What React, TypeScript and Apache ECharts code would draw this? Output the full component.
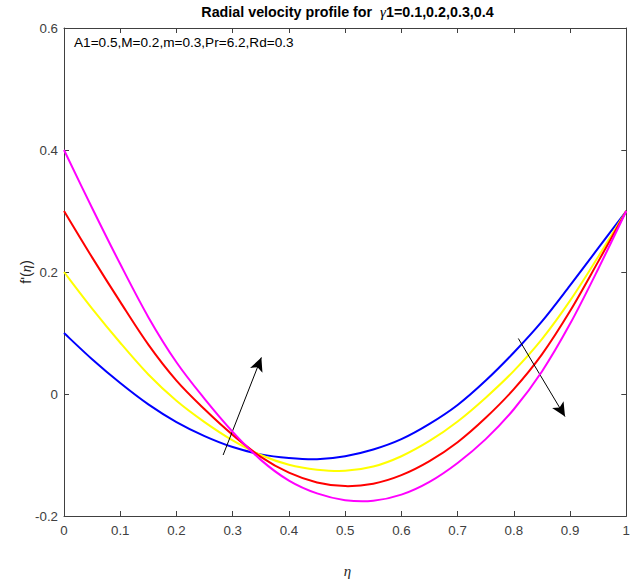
import React, { useEffect, useRef } from "react";
import * as echarts from "echarts";

const etaValues = [0, 0.05, 0.1, 0.15, 0.2, 0.25, 0.3, 0.35, 0.4, 0.45, 0.5, 0.55, 0.6, 0.65, 0.7, 0.75, 0.8, 0.85, 0.9, 0.95, 1];
const gamma01 = [0.1, 0.057, 0.018, -0.017, -0.046, -0.069, -0.087, -0.099, -0.105, -0.107, -0.102, -0.091, -0.074, -0.049, -0.018, 0.022, 0.068, 0.119, 0.178, 0.239, 0.3];
const gamma02 = [0.2, 0.14, 0.084, 0.032, -0.011, -0.046, -0.076, -0.1, -0.116, -0.124, -0.126, -0.119, -0.102, -0.077, -0.045, -0.006, 0.038, 0.09, 0.153, 0.225, 0.3];
const gamma03 = [0.3, 0.224, 0.151, 0.081, 0.022, -0.025, -0.067, -0.103, -0.129, -0.145, -0.151, -0.147, -0.133, -0.11, -0.079, -0.039, 0.008, 0.065, 0.136, 0.217, 0.3];
const gamma04 = [0.4, 0.305, 0.213, 0.126, 0.052, -0.008, -0.062, -0.108, -0.142, -0.163, -0.174, -0.175, -0.165, -0.144, -0.113, -0.074, -0.025, 0.037, 0.115, 0.205, 0.3];

const seriesNames = ["γ1=0.1", "γ1=0.2", "γ1=0.3", "γ1=0.4"];
const seriesColors = ["#0000ff", "#ffff00", "#ff0000", "#ff00ff"];
const seriesValues = [gamma01, gamma02, gamma03, gamma04];

const xTicks = { min: 0, max: 1, interval: 0.1 };
const yTicks = { min: -0.2, max: 0.6, interval: 0.2 };

// arrows: [tail, head] in data coordinates
const arrowUp = [[0.283, -0.1], [0.351, 0.06]];
const arrowDown = [[0.808, 0.091], [0.891, -0.037]];

const titleText = "Radial velocity profile for  ";
const titleGamma = "γ";
const titleRest = "1=0.1,0.2,0.3,0.4";
const annotation = "A1=0.5,M=0.2,m=0.3,Pr=6.2,Rd=0.3";

const FONT = "'Liberation Sans', Arial, Helvetica, sans-serif";
const SERIF = "'Liberation Serif', 'DejaVu Serif', serif";
const AXIS_COLOR = "#404040";

// smooth path through pixel points (Catmull-Rom as cubic Bezier)
function splinePath(p: number[][]): string {
  let d = `M${p[0][0]},${p[0][1]}`;
  for (let i = 0; i < p.length - 1; i++) {
    const p0 = p[i - 1] || p[i];
    const p1 = p[i];
    const p2 = p[i + 1];
    const p3 = p[i + 2] || p[i + 1];
    const c1x = p1[0] + (p2[0] - p0[0]) / 6;
    const c1y = p1[1] + (p2[1] - p0[1]) / 6;
    const c2x = p2[0] - (p3[0] - p1[0]) / 6;
    const c2y = p2[1] - (p3[1] - p1[1]) / 6;
    d += ` C${c1x},${c1y} ${c2x},${c2y} ${p2[0]},${p2[1]}`;
  }
  return d;
}

export default function App() {
  const ref = useRef<HTMLDivElement>(null);
  useEffect(() => {
    document.body.style.margin = "0";
    const chart = echarts.init(ref.current!, null, { renderer: "svg" });
    const fmt = (v: number) => String(parseFloat(v.toFixed(2)));
    const axisCommon = {
      axisLine: { show: true, onZero: false, lineStyle: { color: AXIS_COLOR, width: 1 } },
      axisTick: { show: true, inside: true, length: 5, lineStyle: { color: AXIS_COLOR } },
      splitLine: { show: false },
    };
    const series: any[] = seriesValues.map((vals, i) => ({
      name: seriesNames[i],
      type: "custom",
      xAxisIndex: 0,
      yAxisIndex: 0,
      data: etaValues.map((e, j) => [e, vals[j]]),
      encode: { x: 0, y: 1 },
      z: 2 + i,
      silent: true,
      renderItem: (params: any, api: any) => {
        if (params.dataIndex !== 0) return null;
        const pts = etaValues.map((e, j) => api.coord([e, vals[j]]));
        return {
          type: "path",
          shape: { pathData: splinePath(pts) },
          style: { stroke: seriesColors[i], lineWidth: 2, fill: "none", lineJoin: "round" },
        };
      },
    }));
    series.push({
      type: "line",
      data: [],
      z: 10,
      markLine: {
        silent: true,
        symbol: ["none", "arrow"],
        symbolSize: [10, 14],
        label: { show: false },
        lineStyle: { color: "#000000", width: 1, type: "solid" },
        data: [
          [{ coord: arrowUp[0] }, { coord: arrowUp[1] }],
          [{ coord: arrowDown[0] }, { coord: arrowDown[1] }],
        ],
      },
    });
    chart.setOption({
      animation: false,
      backgroundColor: "#ffffff",
      grid: { left: 64, right: 2, top: 28, bottom: 65, containLabel: false },
      xAxis: [
        {
          type: "value",
          position: "bottom",
          ...xTicks,
          ...axisCommon,
          axisLabel: { color: AXIS_COLOR, fontFamily: FONT, fontSize: 13.3, margin: 8, formatter: fmt },
        },
        {
          type: "value",
          position: "top",
          ...xTicks,
          ...axisCommon,
          axisLabel: { show: false },
        },
      ],
      yAxis: [
        {
          type: "value",
          position: "left",
          ...yTicks,
          ...axisCommon,
          axisLabel: { color: AXIS_COLOR, fontFamily: FONT, fontSize: 13.3, margin: 6, formatter: fmt },
        },
        {
          type: "value",
          position: "right",
          ...yTicks,
          ...axisCommon,
          axisLabel: { show: false },
        },
      ],
      series,
      graphic: [
        {
          type: "text",
          x: 347.5,
          y: 12,
          style: {
            text: `{b|${titleText}}{g|${titleGamma}}{b|${titleRest}}`,
            align: "center",
            verticalAlign: "middle",
            rich: {
              b: { fontFamily: FONT, fontSize: 14.3, fontWeight: "bold", fill: "#000000" },
              g: { fontFamily: SERIF, fontSize: 15, fontStyle: "italic", fill: "#000000" },
            },
          },
        },
        {
          type: "text",
          x: 74,
          y: 42.5,
          style: {
            text: annotation,
            fontFamily: FONT,
            fontSize: 13.6,
            fill: "#000000",
            align: "left",
            verticalAlign: "middle",
          },
        },
        {
          type: "text",
          x: 26,
          y: 272,
          rotation: Math.PI / 2,
          style: {
            text: "{a|f'(}{g|η}{a|)}",
            align: "center",
            verticalAlign: "middle",
            rich: {
              a: { fontFamily: FONT, fontSize: 14.5, fill: "#262626" },
              g: { fontFamily: SERIF, fontSize: 14.5, fontStyle: "italic", fill: "#262626" },
            },
          },
        },
        {
          type: "text",
          x: 347.5,
          y: 571,
          style: {
            text: "η",
            fontFamily: SERIF,
            fontSize: 15,
            fontStyle: "italic",
            fill: "#262626",
            align: "center",
            verticalAlign: "middle",
          },
        },
      ],
    });
    return () => chart.dispose();
  }, []);
  return <div ref={ref} style={{ width: 633, height: 581 }} />;
}
